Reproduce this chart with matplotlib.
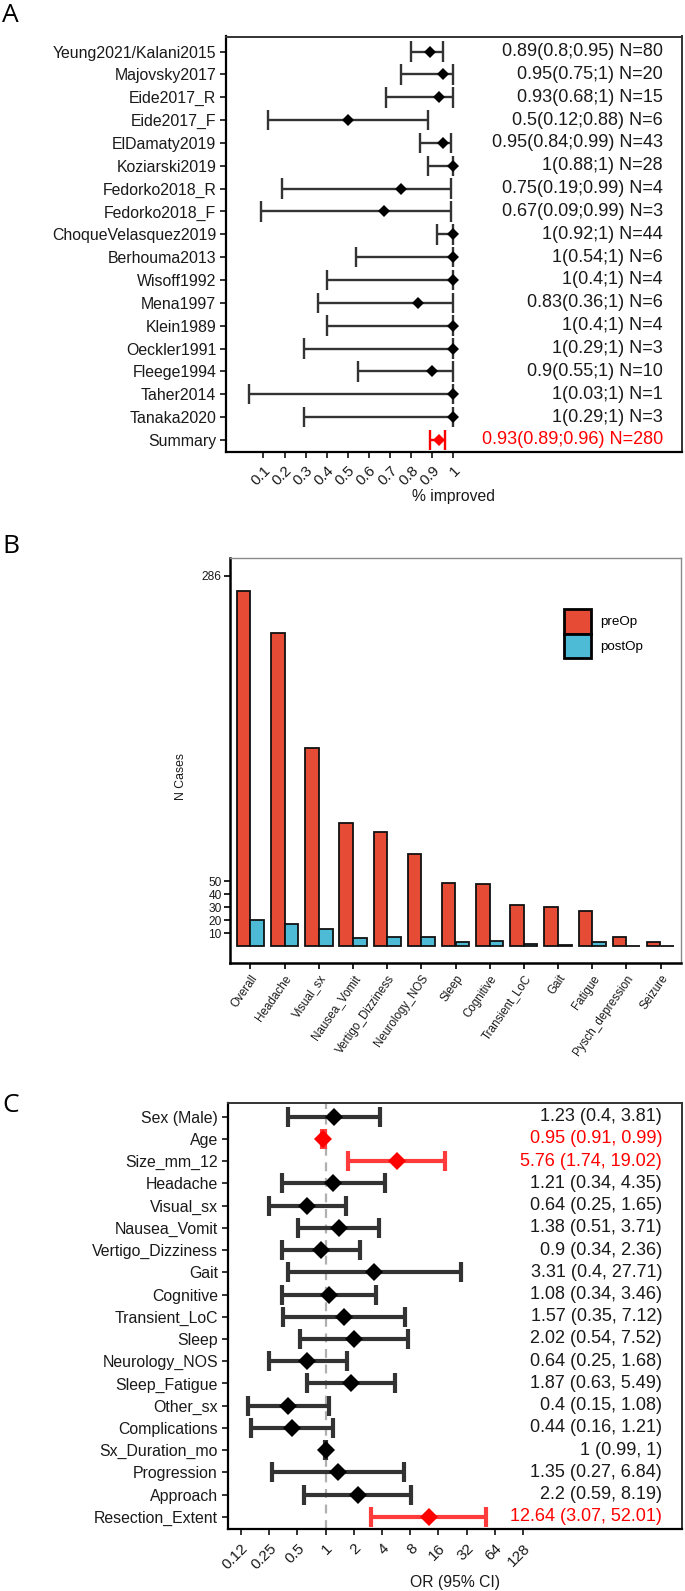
import matplotlib
matplotlib.use("Agg")
import matplotlib.pyplot as plt
from matplotlib.patches import Patch
import numpy as np

plt.rcParams['font.family'] = ['Liberation Sans', 'DejaVu Sans']

# ---------------- Panel A data ----------------
a_studies = ["Yeung2021/Kalani2015", "Majovsky2017", "Eide2017_R", "Eide2017_F",
             "ElDamaty2019", "Koziarski2019", "Fedorko2018_R", "Fedorko2018_F",
             "ChoqueVelasquez2019", "Berhouma2013", "Wisoff1992", "Mena1997",
             "Klein1989", "Oeckler1991", "Fleege1994", "Taher2014", "Tanaka2020",
             "Summary"]
a_est = [0.89, 0.95, 0.93, 0.5, 0.95, 1, 0.75, 0.67, 1, 1, 1, 0.83, 1, 1, 0.9, 1, 1, 0.93]
a_lo = [0.8, 0.75, 0.68, 0.12, 0.84, 0.88, 0.19, 0.09, 0.92, 0.54, 0.4, 0.36, 0.4, 0.29, 0.55, 0.03, 0.29, 0.89]
a_hi = [0.95, 1, 1, 0.88, 0.99, 1, 0.99, 0.99, 1, 1, 1, 1, 1, 1, 1, 1, 1, 0.96]
a_n = [80, 20, 15, 6, 43, 28, 4, 3, 44, 6, 4, 6, 4, 3, 10, 1, 3, 280]
a_ticks = [0.1, 0.2, 0.3, 0.4, 0.5, 0.6, 0.7, 0.8, 0.9, 1.0]
a_ticklabels = ["0.1", "0.2", "0.3", "0.4", "0.5", "0.6", "0.7", "0.8", "0.9", "1"]

# ---------------- Panel B data ----------------
b_cats = ["Overall", "Headache", "Visual_sx", "Nausea_Vomit", "Vertigo_Dizziness",
          "Neurology_NOS", "Sleep", "Cognitive", "Transient_LoC", "Gait", "Fatigue",
          "Pysch_depression", "Seizure"]
b_pre = [274, 242, 153, 95, 88, 71, 49, 48, 32, 30, 27, 7, 3]
b_post = [20, 17, 13, 6, 7, 7, 3, 4, 2, 1, 3, 0, 0]
b_yticks = [10, 20, 30, 40, 50, 286]

# ---------------- Panel C data ----------------
c_vars = ["Sex (Male)", "Age", "Size_mm_12", "Headache", "Visual_sx", "Nausea_Vomit",
          "Vertigo_Dizziness", "Gait", "Cognitive", "Transient_LoC", "Sleep",
          "Neurology_NOS", "Sleep_Fatigue", "Other_sx", "Complications",
          "Sx_Duration_mo", "Progression", "Approach", "Resection_Extent"]
c_or = [1.23, 0.95, 5.76, 1.21, 0.64, 1.38, 0.9, 3.31, 1.08, 1.57, 2.02, 0.64, 1.87,
        0.4, 0.44, 1, 1.35, 2.2, 12.64]
c_lo = [0.4, 0.91, 1.74, 0.34, 0.25, 0.51, 0.34, 0.4, 0.34, 0.35, 0.54, 0.25, 0.63,
        0.15, 0.16, 0.99, 0.27, 0.59, 3.07]
c_hi = [3.81, 0.99, 19.02, 4.35, 1.65, 3.71, 2.36, 27.71, 3.46, 7.12, 7.52, 1.68, 5.49,
        1.08, 1.21, 1, 6.84, 8.19, 52.01]
c_sig = [False, True, True, False, False, False, False, False, False, False, False,
         False, False, False, False, False, False, False, True]
c_ticks = [0.125, 0.25, 0.5, 1, 2, 4, 8, 16, 32, 64, 128]
c_ticklabels = ["0.12", "0.25", "0.5", "1", "2", "4", "8", "16", "32", "64", "128"]

W, H = 685, 1591
fig = plt.figure(figsize=(W / 100, H / 100), dpi=100)


def ax_px(l, t, r, b):
    return fig.add_axes([l / W, 1 - b / H, (r - l) / W, (b - t) / H])


def style_box(ax, top_col, top_lw, lb_lw=1.6):
    for s in ['left', 'bottom']:
        ax.spines[s].set_color('black')
        ax.spines[s].set_linewidth(lb_lw)
    for s in ['top', 'right']:
        ax.spines[s].set_color(top_col)
        ax.spines[s].set_linewidth(top_lw)


# ================= Panel A =================
axA = ax_px(226, 36.5, 682, 452)
nA = len(a_studies)
ya = np.arange(1, nA + 1)
for i in range(nA):
    col = 'red' if a_studies[i] == "Summary" else '#333333'
    mcol = 'red' if a_studies[i] == "Summary" else 'black'
    axA.hlines(ya[i], a_lo[i], a_hi[i], color=col, lw=1.7, zorder=2)
    axA.vlines([a_lo[i], a_hi[i]], ya[i] - 0.45, ya[i] + 0.45, color=col, lw=1.7, zorder=2)
    axA.plot(a_est[i], ya[i], marker='D', ms=6.3, color=mcol, zorder=3, mew=0)
    txt = f"{a_est[i]:g}({a_lo[i]:g};{a_hi[i]:g}) N={a_n[i]}"
    axA.text(0.958, ya[i], txt, transform=axA.get_yaxis_transform(), ha='right',
             va='center', fontsize=13, color=('red' if a_studies[i] == "Summary" else '#1a1a1a'))
axA.set_xlim(-0.077, 2.082)
axA.set_ylim(18.53, 0.34)
axA.set_yticks(ya)
axA.set_yticklabels(a_studies, fontsize=11.4, color='#1a1a1a')
axA.set_xticks(a_ticks)
axA.set_xticklabels(a_ticklabels, fontsize=11, rotation=45, ha='right', va='top',
                    rotation_mode='anchor', color='#1a1a1a')
axA.tick_params(axis='both', length=4, width=1.4, color='#333333')
axA.tick_params(axis='y', pad=3)
axA.tick_params(axis='x', pad=4)
style_box(axA, '#333333', 1.4)
axA.text(0.5, -(496.7 - 452) / 415.5, "% improved", transform=axA.transAxes,
         ha='center', va='center', fontsize=11.3, color='#1a1a1a')

# ================= Panel B =================
axB = ax_px(230, 557.5, 681, 963)
xb = np.arange(1, len(b_cats) + 1)
bw = 0.4
axB.bar(xb - bw / 2, b_pre, width=bw, color='#E64B35', edgecolor='#111111', lw=1.3,
        label='preOp', zorder=2)
axB.bar(xb + bw / 2, b_post, width=bw, color='#4DBBD5', edgecolor='#111111', lw=1.3,
        label='postOp', zorder=2)
axB.set_xlim(0.4, 13.6)
axB.set_ylim(-13, 300)
axB.set_yticks(b_yticks)
axB.set_yticklabels([str(v) for v in b_yticks], fontsize=8.6, color='#1a1a1a')
axB.set_xticks(xb)
axB.set_xticklabels(b_cats, fontsize=8.4, rotation=55, ha='right', va='top',
                    rotation_mode='anchor', color='#1a1a1a')
axB.tick_params(axis='both', length=4, width=1.4, color='#222222')
axB.tick_params(axis='x', pad=3)
axB.tick_params(axis='y', pad=2)
style_box(axB, '#8a8a8a', 1.0, lb_lw=1.8)
axB.text((180.7 - 230) / 451, 1 - (776.7 - 557.5) / 405.5, "N Cases", rotation=90,
         transform=axB.transAxes, ha='center', va='center', fontsize=8.8, color='#1a1a1a')
handles = [Patch(facecolor='#E64B35', edgecolor='black', lw=2.0, label='preOp'),
           Patch(facecolor='#4DBBD5', edgecolor='black', lw=2.0, label='postOp')]
leg = fig.legend(handles=handles, loc='upper left', bbox_to_anchor=(564 / W, 1 - 609 / H),
                 frameon=False, fontsize=9.6, handlelength=2.0, handleheight=2.45,
                 labelspacing=0.0, handletextpad=0.7, borderpad=0, borderaxespad=0)

# ================= Panel C =================
axC = ax_px(227.6, 1102.7, 682, 1529)
axC.set_xscale('log', base=2)
nC = len(c_vars)
yc = np.arange(1, nC + 1)
axC.axvline(1, color='#b0b0b0', lw=1.6, ls=(0, (4, 3)), zorder=1)
for i in range(nC):
    lcol = '#ff3b3b' if c_sig[i] else '#333333'
    mcol = 'red' if c_sig[i] else 'black'
    axC.hlines(yc[i], c_lo[i], c_hi[i], color=lcol, lw=3.0, zorder=2)
    axC.vlines([c_lo[i], c_hi[i]], yc[i] - 0.45, yc[i] + 0.45, color=lcol, lw=3.0, zorder=2)
    axC.plot(c_or[i], yc[i], marker='D', ms=9.5, color=mcol, mew=0, zorder=3)
    txt = f"{c_or[i]:g} ({c_lo[i]:g}, {c_hi[i]:g})"
    axC.text(0.956, yc[i], txt, transform=axC.get_yaxis_transform(), ha='right',
             va='center', fontsize=13, color=('red' if c_sig[i] else '#1a1a1a'))
axC.set_xlim(2 ** -3.472, 2 ** 12.64)
axC.set_ylim(19.55, 0.37)
axC.set_yticks(yc)
axC.set_yticklabels(c_vars, fontsize=11.4, color='#1a1a1a')
axC.set_xticks(c_ticks)
axC.set_xticklabels(c_ticklabels, fontsize=11, rotation=45, ha='right', va='top',
                    rotation_mode='anchor', color='#1a1a1a')
axC.xaxis.set_minor_locator(matplotlib.ticker.NullLocator())
axC.tick_params(axis='both', length=4, width=1.4, color='#333333')
axC.tick_params(axis='y', pad=3)
axC.tick_params(axis='x', pad=5)
style_box(axC, '#333333', 1.4)
axC.text(0.5, -(1582.7 - 1529) / 426.3, "OR (95% CI)", transform=axC.transAxes,
         ha='center', va='center', fontsize=11.3, color='#1a1a1a')

# panel letters
for lab, top in [("A", 3), ("B", 534), ("C", 1093)]:
    fig.text(2 / W, 1 - top / H, lab, fontsize=19, family=['Open Sans', 'DejaVu Sans'],
             ha='left', va='top', color='black')

fig.savefig("out.png", dpi=100)
